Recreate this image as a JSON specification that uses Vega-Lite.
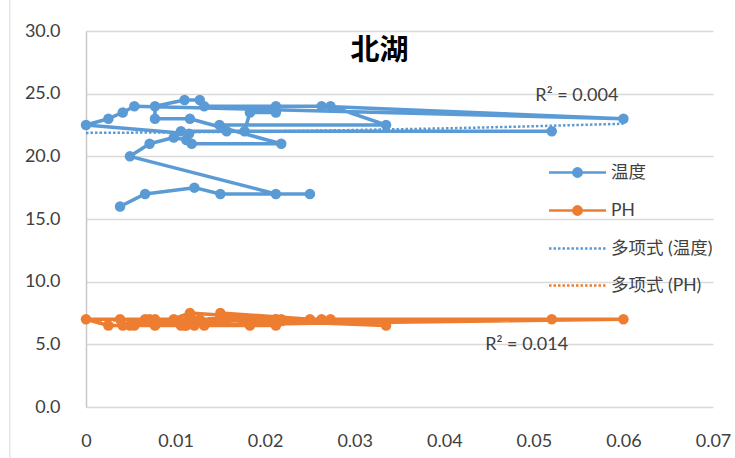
{
  "$schema": "https://vega.github.io/schema/vega-lite/v6.json",
  "width": 627,
  "height": 376,
  "autosize": {"type": "none"},
  "padding": {"left": 86, "top": 31, "right": 22, "bottom": 51},
  "background": "white",
  "config": {
    "view": {"stroke": null},
    "font": "Lato, Noto Sans CJK SC",
    "legend": {"labelFont": "Lato, Noto Sans CJK SC"}
  },
  "title": {
    "text": "北湖",
    "font": "Noto Sans CJK SC",
    "fontSize": 29,
    "fontWeight": "bold",
    "color": "#000000",
    "anchor": "middle",
    "frame": "group",
    "offset": -73,
    "dx": -20
  },
  "datasets": {
    "obs": [
      {"i": 1, "x": 0.0038, "series": "温度", "value": 16.0},
      {"i": 2, "x": 0.0066, "series": "温度", "value": 17.0},
      {"i": 3, "x": 0.0121, "series": "温度", "value": 17.5},
      {"i": 4, "x": 0.015, "series": "温度", "value": 17.0},
      {"i": 5, "x": 0.025, "series": "温度", "value": 17.0},
      {"i": 6, "x": 0.0212, "series": "温度", "value": 17.0},
      {"i": 7, "x": 0.0049, "series": "温度", "value": 20.0},
      {"i": 8, "x": 0.0071, "series": "温度", "value": 21.0},
      {"i": 9, "x": 0.0098, "series": "温度", "value": 21.5},
      {"i": 10, "x": 0.0112, "series": "温度", "value": 21.3},
      {"i": 11, "x": 0.0118, "series": "温度", "value": 21.0},
      {"i": 12, "x": 0.0218, "series": "温度", "value": 21.0},
      {"i": 13, "x": 0.0116, "series": "温度", "value": 23.0},
      {"i": 14, "x": 0.0077, "series": "温度", "value": 23.0},
      {"i": 15, "x": 0.0077, "series": "温度", "value": 24.0},
      {"i": 16, "x": 0.011, "series": "温度", "value": 24.5},
      {"i": 17, "x": 0.0127, "series": "温度", "value": 24.5},
      {"i": 18, "x": 0.0132, "series": "温度", "value": 24.0},
      {"i": 19, "x": 0.0273, "series": "温度", "value": 24.0},
      {"i": 20, "x": 0.0335, "series": "温度", "value": 22.5},
      {"i": 21, "x": 0.0149, "series": "温度", "value": 22.5},
      {"i": 22, "x": 0.0157, "series": "温度", "value": 22.0},
      {"i": 23, "x": 0.052, "series": "温度", "value": 22.0},
      {"i": 24, "x": 0.0106, "series": "温度", "value": 22.0},
      {"i": 25, "x": 0.0177, "series": "温度", "value": 22.0},
      {"i": 26, "x": 0.0183, "series": "温度", "value": 23.5},
      {"i": 27, "x": 0.0212, "series": "温度", "value": 23.5},
      {"i": 28, "x": 0.0212, "series": "温度", "value": 24.0},
      {"i": 29, "x": 0.0263, "series": "温度", "value": 24.0},
      {"i": 30, "x": 0.06, "series": "温度", "value": 23.0},
      {"i": 31, "x": 0.0054, "series": "温度", "value": 24.0},
      {"i": 32, "x": 0.0041, "series": "温度", "value": 23.5},
      {"i": 33, "x": 0.0025, "series": "温度", "value": 23.0},
      {"i": 34, "x": 0.0, "series": "温度", "value": 22.5},
      {"i": 35, "x": 0.0115, "series": "温度", "value": 21.8},
      {"i": 1, "x": 0.0038, "series": "PH", "value": 7.0},
      {"i": 2, "x": 0.0066, "series": "PH", "value": 7.0},
      {"i": 3, "x": 0.0121, "series": "PH", "value": 6.5},
      {"i": 4, "x": 0.015, "series": "PH", "value": 7.5},
      {"i": 5, "x": 0.025, "series": "PH", "value": 7.0},
      {"i": 6, "x": 0.0212, "series": "PH", "value": 6.5},
      {"i": 7, "x": 0.0049, "series": "PH", "value": 6.5},
      {"i": 8, "x": 0.0071, "series": "PH", "value": 7.0},
      {"i": 9, "x": 0.0098, "series": "PH", "value": 7.0},
      {"i": 10, "x": 0.0112, "series": "PH", "value": 6.5},
      {"i": 11, "x": 0.0118, "series": "PH", "value": 7.0},
      {"i": 12, "x": 0.0218, "series": "PH", "value": 7.0},
      {"i": 13, "x": 0.0116, "series": "PH", "value": 7.5},
      {"i": 14, "x": 0.0077, "series": "PH", "value": 6.5},
      {"i": 15, "x": 0.0077, "series": "PH", "value": 7.0},
      {"i": 16, "x": 0.011, "series": "PH", "value": 6.5},
      {"i": 17, "x": 0.0127, "series": "PH", "value": 7.0},
      {"i": 18, "x": 0.0132, "series": "PH", "value": 6.5},
      {"i": 19, "x": 0.0273, "series": "PH", "value": 7.0},
      {"i": 20, "x": 0.0335, "series": "PH", "value": 6.5},
      {"i": 21, "x": 0.0149, "series": "PH", "value": 7.0},
      {"i": 22, "x": 0.0157, "series": "PH", "value": 7.0},
      {"i": 23, "x": 0.052, "series": "PH", "value": 7.0},
      {"i": 24, "x": 0.0106, "series": "PH", "value": 6.5},
      {"i": 25, "x": 0.0177, "series": "PH", "value": 7.0},
      {"i": 26, "x": 0.0183, "series": "PH", "value": 6.5},
      {"i": 27, "x": 0.0212, "series": "PH", "value": 7.0},
      {"i": 28, "x": 0.0212, "series": "PH", "value": 7.0},
      {"i": 29, "x": 0.0263, "series": "PH", "value": 7.0},
      {"i": 30, "x": 0.06, "series": "PH", "value": 7.0},
      {"i": 31, "x": 0.0054, "series": "PH", "value": 6.5},
      {"i": 32, "x": 0.0041, "series": "PH", "value": 6.5},
      {"i": 33, "x": 0.0025, "series": "PH", "value": 6.5},
      {"i": 34, "x": 0.0, "series": "PH", "value": 7.0},
      {"i": 35, "x": 0.0115, "series": "PH", "value": 7.0}
    ],
    "trend": [
      {"x": 0.0, "series": "多项式 (温度)", "value": 21.87},
      {"x": 0.01, "series": "多项式 (温度)", "value": 21.91},
      {"x": 0.02, "series": "多项式 (温度)", "value": 21.99},
      {"x": 0.03, "series": "多项式 (温度)", "value": 22.1},
      {"x": 0.04, "series": "多项式 (温度)", "value": 22.23},
      {"x": 0.05, "series": "多项式 (温度)", "value": 22.4},
      {"x": 0.06, "series": "多项式 (温度)", "value": 22.6},
      {"x": 0.0, "series": "多项式 (PH)", "value": 6.9},
      {"x": 0.01, "series": "多项式 (PH)", "value": 6.9},
      {"x": 0.02, "series": "多项式 (PH)", "value": 6.91},
      {"x": 0.03, "series": "多项式 (PH)", "value": 6.93},
      {"x": 0.04, "series": "多项式 (PH)", "value": 6.95},
      {"x": 0.05, "series": "多项式 (PH)", "value": 6.97},
      {"x": 0.06, "series": "多项式 (PH)", "value": 7.0}
    ],
    "r2": [
      {"x": 0.0548, "value": 24.8, "label": "R² = 0.004"},
      {"x": 0.0492, "value": 4.95, "label": "R² = 0.014"}
    ]
  },
  "layer": [
    {
      "data": {"values": [{"bx": -0.0085, "top": 33, "bottom": -5}]},
      "mark": {"type": "rule", "clip": false, "color": "#d9d9d9", "strokeWidth": 1},
      "encoding": {
        "x": {"field": "bx", "type": "quantitative"},
        "y": {"field": "top", "type": "quantitative"},
        "y2": {"field": "bottom"}
      }
    },
    {
      "data": {"name": "obs"},
      "mark": {"type": "line", "strokeWidth": 3.5, "strokeJoin": "round"},
      "encoding": {
        "x": {
          "field": "x",
          "type": "quantitative",
          "scale": {"domain": [0, 0.07], "nice": false, "zero": false},
          "axis": {
            "title": null,
            "values": [0, 0.01, 0.02, 0.03, 0.04, 0.05, 0.06, 0.07],
            "format": ".2~f",
            "domain": false,
            "ticks": false,
            "grid": false,
            "labelFlush": false,
            "labelBound": false,
            "labelOverlap": false,
            "labelPadding": 25,
            "labelFontSize": 18,
            "labelColor": "#404040",
            "labelFont": "Lato"
          }
        },
        "y": {
          "field": "value",
          "type": "quantitative",
          "scale": {"domain": [0, 30], "nice": false},
          "axis": {
            "title": null,
            "values": [0, 5, 10, 15, 20, 25, 30],
            "format": ".1f",
            "domain": true,
            "domainColor": "#c8c8c8",
            "domainWidth": 1.5,
            "ticks": false,
            "grid": true,
            "gridColor": "#d9d9d9",
            "gridWidth": 1.5,
            "labelFlush": false,
            "labelPadding": 26,
            "labelFontSize": 18,
            "labelColor": "#404040",
            "labelFont": "Lato"
          }
        },
        "color": {
          "field": "series",
          "type": "nominal",
          "scale": {
            "domain": ["温度", "PH", "多项式 (温度)", "多项式 (PH)"],
            "range": ["#5B9BD5", "#ED7D31", "#5B9BD5", "#ED7D31"]
          },
          "legend": {
            "orient": "none",
            "legendX": 480,
            "legendY": 130,
            "title": null,
            "padding": 0,
            "labelFontSize": 17.5,
            "labelColor": "#404040",
            "symbolSize": 400,
            "symbolType": "M-2.85,0H2.85",
            "rowPadding": 17,
            "labelOffset": 22,
            "encode": {
              "symbols": {
                "update": {
                  "shape": {"signal": "indexof(['温度','PH'], datum.value) >= 0 ? 'M-2.85,0H2.85M0.42,0A0.42,0.42,0,1,1,-0.42,0A0.42,0.42,0,1,1,0.42,0Z' : 'M-2.85,0H2.85'"},
                  "fill": {"signal": "indexof(['温度','PH'], datum.value) >= 0 ? scale('color', datum.value) : 'transparent'"},
                  "stroke": {"signal": "scale('color', datum.value)"},
                  "strokeWidth": {"value": 2.5},
                  "strokeDash": {"signal": "indexof(['温度','PH'], datum.value) >= 0 ? [] : [2.5, 2]"},
                  "opacity": {"value": 1}
                }
              }
            }
          }
        },
        "order": {"field": "i", "type": "quantitative"}
      }
    },
    {
      "data": {"name": "obs"},
      "mark": {"type": "circle", "size": 110, "opacity": 1},
      "encoding": {
        "x": {"field": "x", "type": "quantitative"},
        "y": {"field": "value", "type": "quantitative"},
        "color": {"field": "series", "type": "nominal"}
      }
    },
    {
      "data": {"name": "trend"},
      "mark": {"type": "line", "strokeWidth": 2.5, "strokeDash": [2.5, 2]},
      "encoding": {
        "x": {"field": "x", "type": "quantitative"},
        "y": {"field": "value", "type": "quantitative"},
        "color": {"field": "series", "type": "nominal"}
      }
    },
    {
      "data": {"name": "r2"},
      "mark": {"type": "text", "fontSize": 18, "font": "Lato", "color": "#404040", "align": "center", "baseline": "middle"},
      "encoding": {
        "x": {"field": "x", "type": "quantitative"},
        "y": {"field": "value", "type": "quantitative"},
        "text": {"field": "label"}
      }
    }
  ]
}
